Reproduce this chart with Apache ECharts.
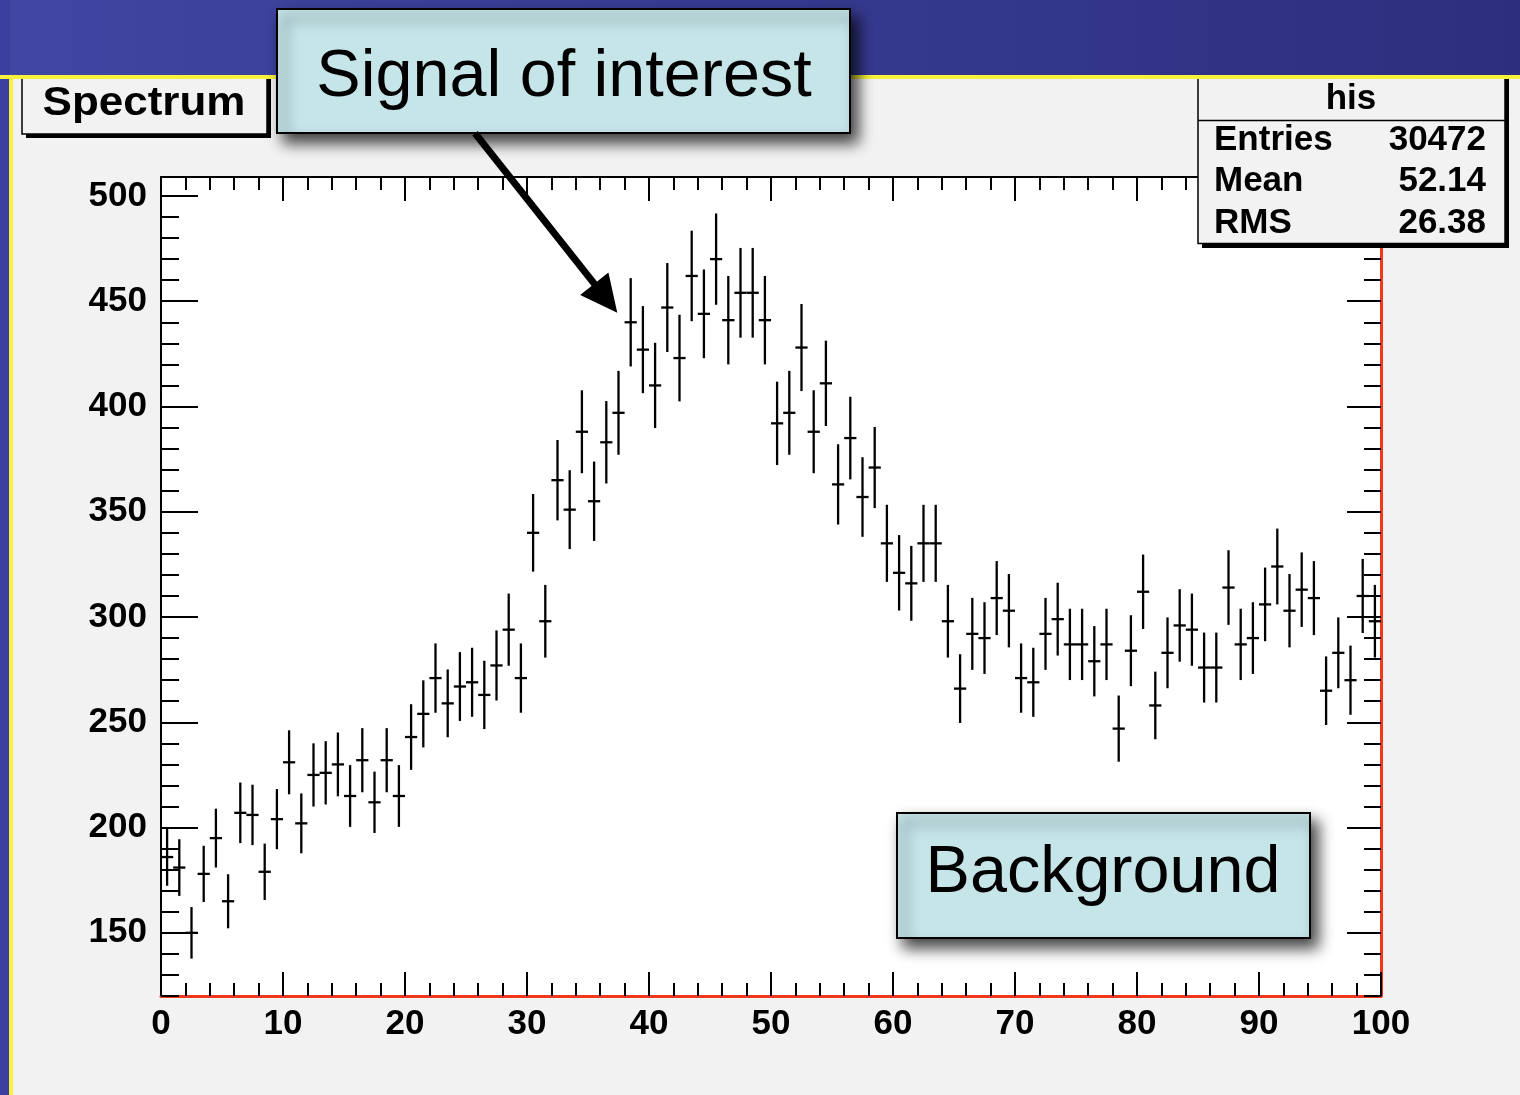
<!DOCTYPE html>
<html>
<head>
<meta charset="utf-8">
<script src="https://cdn.jsdelivr.net/npm/echarts@6/dist/echarts.min.js"></script>
<style>
  html, body { margin: 0; padding: 0; background: #f2f2f2; }
  #chart { width: 1520px; height: 1095px; }
</style>
</head>
<body>
<div id="chart"></div>
<script>
const binCounts = [
  186, 181, 150, 178, 195, 165, 207, 206, 179, 204,
  231, 202, 225, 226, 230, 215, 232, 212, 232, 215,
  243, 254, 271, 259, 267, 269, 263, 277, 294, 271,
  340, 298, 365, 351, 388, 355, 383, 397, 440, 427,
  410, 447, 423, 462, 444, 470, 441, 454, 454, 441,
  392, 397, 428, 388, 411, 363, 385, 357, 371, 335,
  321, 316, 335, 335, 298, 266, 292, 290, 309, 303,
  271, 269, 292, 299, 287, 287, 279, 287, 247, 284,
  312, 258, 283, 296, 294, 276, 276, 314, 287, 290,
  306, 324, 303, 313, 309, 265, 283, 270, 310, 298
];
const xRange = [0, 100];
const yRange = [120, 509];
const xTickLabels = [0, 10, 20, 30, 40, 50, 60, 70, 80, 90, 100];
const yTickLabels = [150, 200, 250, 300, 350, 400, 450, 500];
const titleText = 'Spectrum';
const statsTitle = 'his';
const statsNames = ['Entries', 'Mean', 'RMS'];
const statsValues = ['30472', '52.14', '26.38'];
const signalLabel = 'Signal of interest';
const backgroundLabel = 'Background';
// arrow annotation in data coordinates (tail -> tip)
const arrowTail = [25.74, 529.8];
const arrowTip = [37.40, 444.5];

// ---------- derived ----------
const binWidth = (xRange[1] - xRange[0]) / binCounts.length;
// histogram points: [bin centre, content, Poisson error sqrt(N)]
const histPoints = binCounts.map((n, i) => [xRange[0] + (i + 0.5) * binWidth, n, Math.sqrt(n)]);

const FONT = '"Liberation Sans", Arial, Helvetica, sans-serif';
const RED = '#f2381c';
const CYAN = '#c5e5e9';

const chart = echarts.init(document.getElementById('chart'), null, { renderer: 'canvas' });

function hAxis(position, customTicks, interval, tickLen, line, showLabel) {
  const ax = {
    type: 'value', position: position, min: xRange[0], max: xRange[1],
    axisLine: line ? { show: true, onZero: false, lineStyle: line } : { show: false, onZero: false },
    axisTick: { show: true, inside: true, length: tickLen, lineStyle: { color: '#000', width: 2 } },
    axisLabel: { show: false },
    splitLine: { show: false }
  };
  if (customTicks) {
    ax.axisTick.customValues = customTicks;
    if (showLabel) {
      ax.axisLabel = {
        show: true, customValues: customTicks, margin: 11,
        fontFamily: FONT, fontWeight: 'bold', fontSize: 35, color: '#000'
      };
    }
  } else {
    ax.interval = interval;
  }
  return ax;
}
function vAxis(position, customTicks, interval, tickLen, line, showLabel) {
  const ax = {
    type: 'value', position: position, min: yRange[0], max: yRange[1],
    axisLine: line ? { show: true, onZero: false, lineStyle: line } : { show: false, onZero: false },
    axisTick: { show: true, inside: true, length: tickLen, lineStyle: { color: '#000', width: 2 } },
    axisLabel: { show: false },
    splitLine: { show: false }
  };
  if (customTicks) {
    ax.axisTick.customValues = customTicks;
    if (showLabel) {
      ax.axisLabel = {
        show: true, customValues: customTicks, margin: 14, padding: [0, 0, 12, 0],
        fontFamily: FONT, fontWeight: 'bold', fontSize: 35, color: '#000'
      };
    }
  } else {
    ax.interval = interval;
  }
  return ax;
}

const option = {
  animation: false,
  backgroundColor: '#f2f2f2',
  grid: {
    left: 161, right: 139, top: 177, bottom: 99,
    show: true, backgroundColor: '#ffffff', borderWidth: 0, containLabel: false
  },
  xAxis: [
    hAxis('bottom', xTickLabels, null, 24, { color: RED, width: 3 }, true),
    hAxis('bottom', null, 2, 13, null, false),
    hAxis('top', xTickLabels, null, 24, { color: '#000', width: 2 }, false),
    hAxis('top', null, 2, 13, null, false)
  ],
  yAxis: [
    vAxis('left', null, 10, 18, { color: '#000', width: 2 }, false),
    vAxis('left', yTickLabels, null, 37, null, true),
    vAxis('right', null, 10, 17, { color: RED, width: 3 }, false),
    vAxis('right', yTickLabels, null, 34, null, false)
  ],
  series: [{
    type: 'custom',
    name: 'his',
    coordinateSystem: 'cartesian2d',
    xAxisIndex: 0, yAxisIndex: 0,
    data: histPoints,
    encode: { x: 0, y: 1 },
    renderItem: function (params, api) {
      const x = api.value(0), y = api.value(1), e = api.value(2);
      const a = api.coord([x - binWidth / 2, y]);
      const b = api.coord([x + binWidth / 2, y]);
      const t = api.coord([x, y + e]);
      const d = api.coord([x, y - e]);
      const st = { stroke: '#000', lineWidth: 2.3 };
      return {
        type: 'group',
        children: [
          { type: 'line', shape: { x1: a[0], y1: a[1], x2: b[0], y2: b[1] }, style: st },
          { type: 'line', shape: { x1: t[0], y1: t[1], x2: d[0], y2: d[1] }, style: st }
        ]
      };
    }
  }]
};
chart.setOption(option);

// ---------- annotations ----------
const S = chart.convertToPixel({ xAxisIndex: 0, yAxisIndex: 0 }, arrowTail);
const T = chart.convertToPixel({ xAxisIndex: 0, yAxisIndex: 0 }, arrowTip);
const dx = T[0] - S[0], dy = T[1] - S[1];
const len = Math.sqrt(dx * dx + dy * dy);
const ux = dx / len, uy = dy / len;
const headLen = 37, headHalf = 18;
const B = [T[0] - ux * headLen, T[1] - uy * headLen];
const W1 = [B[0] - uy * headHalf, B[1] + ux * headHalf];
const W2 = [B[0] + uy * headHalf, B[1] - ux * headHalf];

const calloutStyle = {
  fill: CYAN, stroke: '#000', lineWidth: 2,
  shadowBlur: 14, shadowOffsetX: 7, shadowOffsetY: 9, shadowColor: 'rgba(0,0,0,0.75)'
};
const statText = (txt, x, y, align) => ({
  type: 'text', z: 62, x: x, y: y,
  style: { text: txt, align: align, verticalAlign: 'middle', font: 'bold 35px ' + FONT, fill: '#000' }
});

const graphics = [
  // slide background bands
  { type: 'rect', z: 50, shape: { x: 0, y: 0, width: 1520, height: 76 },
    style: { fill: new echarts.graphic.LinearGradient(0, 0, 1, 0, [
      { offset: 0, color: '#4046a2' }, { offset: 1, color: '#2d2f7e' }]) } },
  { type: 'rect', z: 50, shape: { x: 0, y: 0, width: 10, height: 1095 }, style: { fill: '#3b40a0' } },
  { type: 'rect', z: 51, shape: { x: 0, y: 75, width: 1520, height: 4 }, style: { fill: '#f8f23c' } },
  { type: 'rect', z: 51, shape: { x: 9, y: 75, width: 4, height: 1020 }, style: { fill: '#f8f23c' } },

  // title pave "Spectrum"
  { type: 'rect', z: 40, shape: { x: 26, y: 60, width: 245, height: 78 }, style: { fill: '#000' } },
  { type: 'rect', z: 41, shape: { x: 22, y: 56, width: 245, height: 78 },
    style: { fill: '#f2f2f2', stroke: '#000', lineWidth: 1.5 } },
  { type: 'text', z: 42, x: 144, y: 104, scaleX: 1.1,
    style: { text: titleText, x: 0, y: 0, align: 'center', verticalAlign: 'middle',
             font: 'bold 40px ' + FONT, fill: '#000' } },

  // stats box
  { type: 'rect', z: 40, shape: { x: 1202, y: 60, width: 307, height: 188 }, style: { fill: '#000' } },
  { type: 'rect', z: 41, shape: { x: 1198, y: 56, width: 307, height: 187.5 },
    style: { fill: '#f2f2f2', stroke: '#000', lineWidth: 1.5 } },
  { type: 'line', z: 42, shape: { x1: 1198, y1: 120.5, x2: 1505, y2: 120.5 },
    style: { stroke: '#000', lineWidth: 1.5 } },
  statText(statsTitle, 1351, 99, 'center'),
  statText(statsNames[0], 1214, 140, 'left'),
  statText(statsValues[0], 1486, 140, 'right'),
  statText(statsNames[1], 1214, 181.5, 'left'),
  statText(statsValues[1], 1486, 181.5, 'right'),
  statText(statsNames[2], 1214, 223.5, 'left'),
  statText(statsValues[2], 1486, 223.5, 'right'),

  // callout "Signal of interest"
  { type: 'rect', z: 70, shape: { x: 277, y: 9, width: 573, height: 124 }, style: calloutStyle },
  { type: 'text', z: 71, x: 564, y: 78,
    style: { text: signalLabel, align: 'center', verticalAlign: 'middle',
             font: '66.5px ' + FONT, fill: '#000' } },

  // arrow
  { type: 'line', z: 72, shape: { x1: S[0], y1: S[1], x2: B[0] + ux * 4, y2: B[1] + uy * 4 },
    style: { stroke: '#000', lineWidth: 7, lineCap: 'butt' } },
  { type: 'polygon', z: 72, shape: { points: [T, W1, W2] }, style: { fill: '#000' } },

  // callout "Background"
  { type: 'rect', z: 70, shape: { x: 897, y: 813, width: 413, height: 125 }, style: calloutStyle },
  { type: 'text', z: 71, x: 1103, y: 874,
    style: { text: backgroundLabel, align: 'center', verticalAlign: 'middle',
             font: '66.5px ' + FONT, fill: '#000' } }
];

chart.setOption({ graphic: { elements: graphics } });
</script>
</body>
</html>
